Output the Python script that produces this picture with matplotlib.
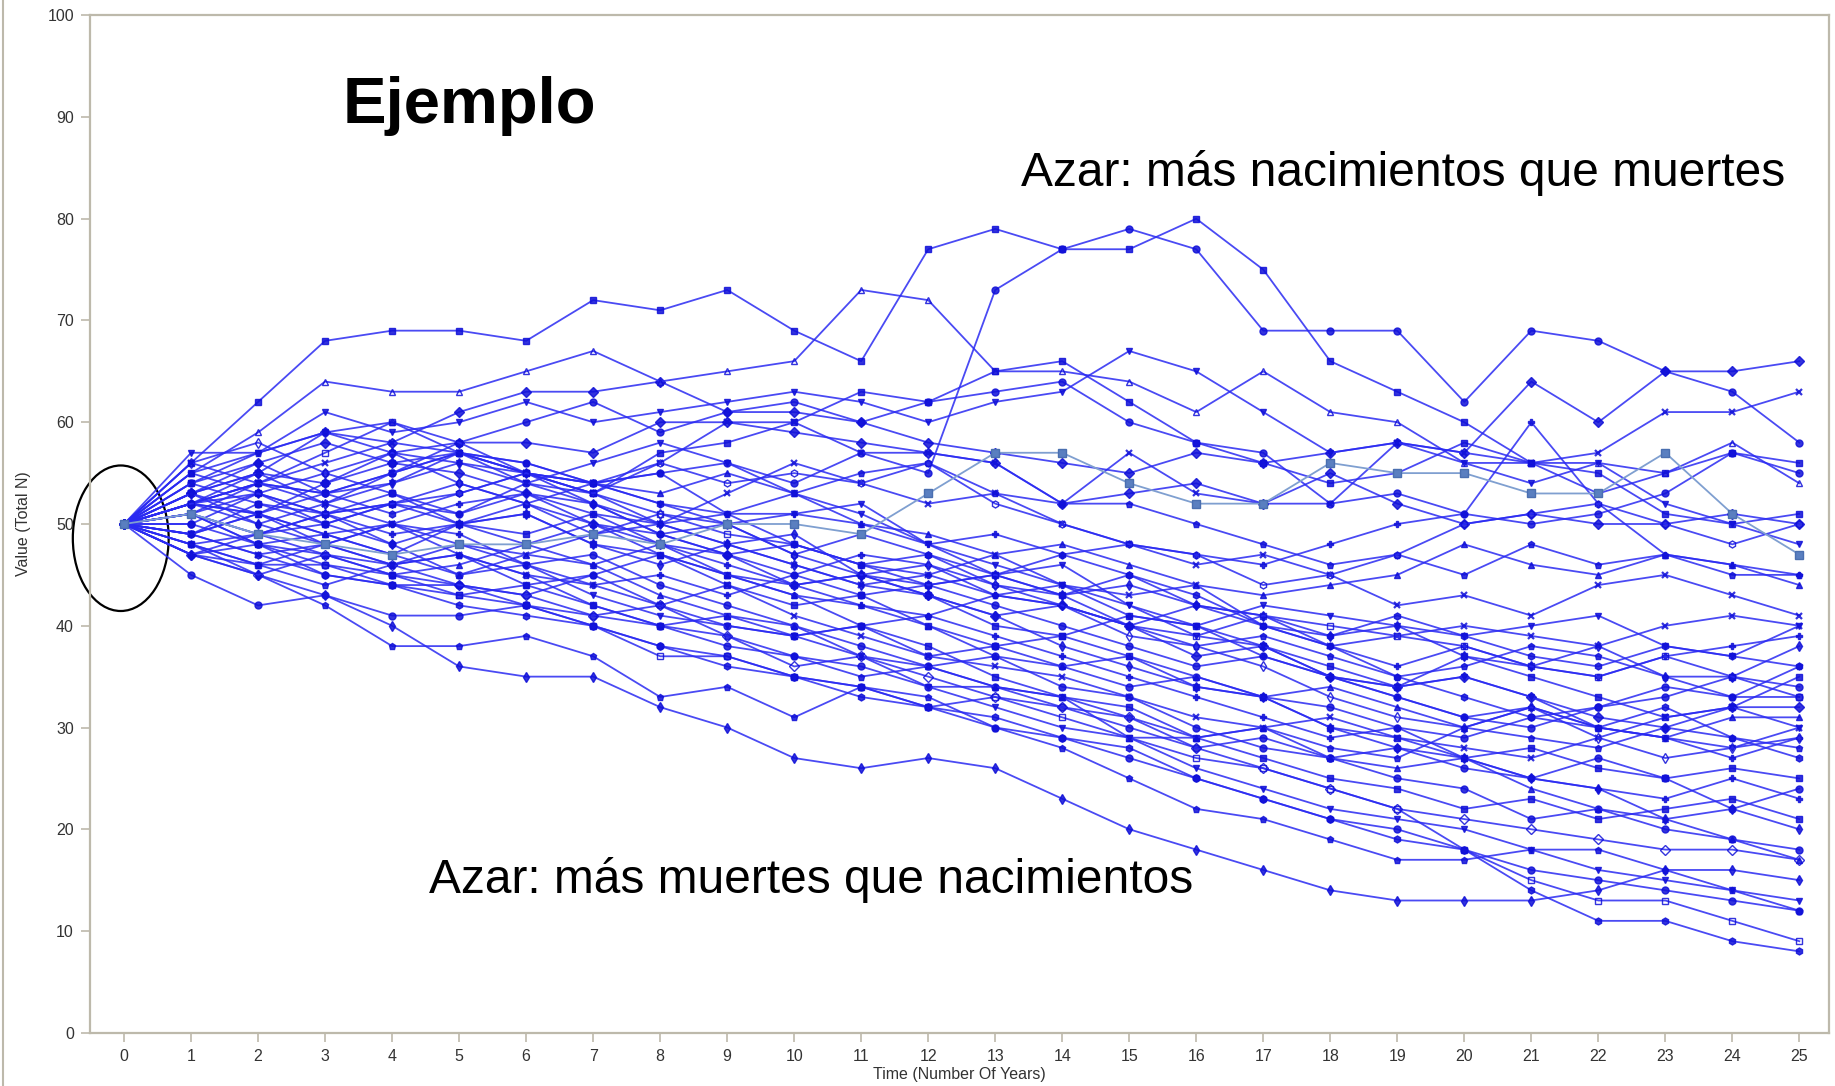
import matplotlib
matplotlib.use("Agg")
import matplotlib.pyplot as plt
from matplotlib.patches import Ellipse
from matplotlib.lines import Line2D

plt.rcParams['font.family'] = ['Liberation Sans', 'DejaVu Sans']

years = list(range(26))

# simulated population runs (one list per run)
run_01 = [50,56,62,68,69,69,68,72,71,73,69,66,77,79,77,77,80,75,66,63,60,56,55,51,50,51]
run_02 = [50,52,54,53,55,57,56,54,55,56,54,57,55,73,77,79,77,69,69,69,62,69,68,65,63,58]
run_03 = [50,53,55,59,58,61,63,63,64,61,61,60,58,57,56,55,57,56,57,58,57,64,60,65,65,66]
run_04 = [50,55,59,64,63,63,65,67,64,65,66,73,72,65,65,64,61,65,61,60,56,56,56,55,58,54]
run_05 = [50,57,57,61,59,60,62,60,61,62,63,62,60,62,63,67,65,61,57,58,56,54,56,52,50,48]
run_06 = [50,52,54,56,58,57,55,54,56,60,60,57,57,56,52,57,53,52,52,58,57,56,57,61,61,63]
run_07 = [50,51,49,50,52,51,53,52,49,50,51,50,48,49,47,48,47,46,48,50,51,60,52,47,46,45]
run_08 = [50,47,45,43,40,36,35,35,32,30,27,26,27,26,23,20,18,16,14,13,13,13,14,16,16,15]
run_09 = [50,48,45,42,38,38,39,37,33,34,31,34,33,30,28,25,22,21,19,17,17,18,18,16,14,12]
run_10 = [50,49,47,45,44,42,41,40,38,36,35,33,32,31,29,28,25,23,21,19,18,14,11,11,9,8]
run_11 = [50,48,46,46,44,43,42,40,37,37,35,34,32,33,31,29,27,26,24,22,18,15,13,13,11,9]
run_12 = [50,45,42,43,41,41,42,40,38,37,35,34,32,30,29,27,25,23,21,20,18,16,15,14,13,12]
run_13 = [50,53,51,54,56,57,55,53,57,58,60,63,62,65,66,62,58,56,54,55,58,56,53,55,57,56]
run_14 = [50,54,56,53,55,58,60,62,59,61,62,60,62,63,64,60,58,57,52,53,51,50,51,53,57,55]
run_15 = [50,52,55,54,57,58,58,57,60,60,59,58,57,56,52,53,54,52,55,52,50,51,50,50,51,50]
run_16 = [50,51,48,49,47,50,52,54,53,55,53,50,49,47,48,46,44,43,44,45,48,46,45,47,46,44]
run_17 = [50,49,51,53,54,57,55,54,52,51,51,52,48,45,46,42,40,42,41,40,39,40,41,38,37,40]
run_18 = [50,53,55,52,50,48,47,49,50,48,46,44,45,47,44,43,44,40,38,39,40,39,38,40,41,40]
run_19 = [50,47,46,48,50,49,46,44,45,43,45,47,46,43,42,40,42,41,38,36,38,36,35,37,38,39]
run_20 = [50,51,53,51,48,50,51,48,46,48,49,45,44,45,43,44,42,41,39,40,37,36,38,35,35,38]
run_21 = [50,52,50,48,46,47,44,45,47,45,43,40,41,43,42,40,38,39,37,35,36,38,37,35,33,36]
run_22 = [50,48,49,51,52,54,52,50,49,47,48,46,47,45,47,45,42,40,39,41,39,37,36,38,37,36]
run_23 = [50,54,52,51,53,50,49,51,48,45,44,45,43,40,39,41,40,38,36,34,37,35,33,31,32,35]
run_24 = [50,50,53,55,53,51,54,52,49,47,45,43,44,42,40,38,36,37,35,33,31,30,32,33,35,34]
run_25 = [50,52,54,57,60,58,55,53,51,49,48,46,44,45,43,40,39,41,40,39,38,36,35,37,35,33]
run_26 = [50,47,48,46,45,44,43,45,42,40,39,40,37,38,36,34,35,33,32,30,29,31,32,34,33,33]
run_27 = [50,53,56,58,56,55,53,50,48,47,44,45,43,41,42,40,37,38,35,34,35,33,31,30,32,32]
run_28 = [50,51,49,47,45,46,48,50,47,45,43,42,40,37,36,37,35,33,34,32,30,32,30,29,31,31]
run_29 = [50,54,57,59,57,56,54,56,58,56,53,51,48,46,44,42,39,38,35,34,35,33,30,29,28,30]
run_30 = [50,49,47,48,50,47,45,44,42,44,41,39,37,36,35,33,31,30,31,29,28,27,29,31,32,30]
run_31 = [50,52,51,49,50,52,53,51,50,51,48,46,45,43,44,41,40,37,35,33,31,32,30,29,27,29]
run_32 = [50,56,58,55,57,54,52,49,51,50,47,45,46,44,42,39,38,36,33,31,30,32,29,27,28,29]
run_33 = [50,48,46,44,46,47,45,42,40,39,37,35,36,34,33,31,29,30,28,27,30,29,28,30,29,28]
run_34 = [50,51,54,53,51,53,55,54,52,50,47,49,47,44,43,45,43,40,38,35,33,31,30,32,29,27]
run_35 = [50,55,53,50,52,50,51,48,47,44,42,43,40,38,39,37,34,33,30,29,27,28,26,25,26,25]
run_36 = [50,49,52,50,48,45,46,47,44,42,40,38,36,37,34,33,30,28,27,28,26,25,27,25,22,24]
run_37 = [50,51,48,47,45,43,44,42,40,41,39,40,38,35,33,32,29,27,25,24,22,23,21,22,23,21]
run_38 = [50,50,48,45,44,44,42,41,40,38,37,36,34,34,32,30,28,29,27,25,24,21,22,20,19,18]
run_39 = [50,47,45,47,46,44,43,41,42,39,36,37,35,33,32,31,28,26,24,22,21,20,19,18,18,17]
run_40 = [50,52,51,49,47,45,47,46,43,41,40,37,36,34,33,29,29,30,27,26,27,24,22,21,19,17]
run_41 = [50,49,51,48,46,48,46,43,41,40,39,37,34,32,30,29,26,24,22,21,20,18,16,15,14,13]
run_42 = [50,56,54,52,55,57,54,53,50,53,56,54,52,53,50,48,46,47,45,42,43,41,44,45,43,41]
run_43 = [50,47,49,51,49,50,48,46,48,46,44,42,41,39,37,35,33,31,29,30,27,25,24,23,25,23]
run_44 = [50,53,50,52,54,56,55,52,50,48,46,44,43,41,38,36,34,33,30,28,27,25,24,21,22,20]
run_45 = [50,55,57,59,60,57,56,54,55,51,53,55,56,53,52,52,50,48,46,47,45,48,46,47,45,45]
run_46 = [50,52,53,51,52,53,55,53,56,54,55,54,56,52,50,48,47,44,45,47,50,51,52,50,48,50]
# the one lighter run
run_light = [50,51,49,48,47,48,48,49,48,50,50,49,53,57,57,54,52,52,56,55,55,53,53,57,51,47]

runs = [run_01, run_02, run_03, run_04, run_05, run_06, run_07, run_08, run_09, run_10,
        run_11, run_12, run_13, run_14, run_15, run_16, run_17, run_18, run_19, run_20,
        run_21, run_22, run_23, run_24, run_25, run_26, run_27, run_28, run_29, run_30,
        run_31, run_32, run_33, run_34, run_35, run_36, run_37, run_38, run_39, run_40,
        run_41, run_42, run_43, run_44, run_45, run_46]

markers = ['s', 'o', 'D', '^', 'v', 'x', 'P', 'd', 'p', 'h', 's', 'o']

fig = plt.figure(figsize=(18.35, 10.86), dpi=100)
ax = fig.add_axes([0.049, 0.049, 0.948, 0.937])

for i, r in enumerate(runs):
    m = markers[i % len(markers)]
    hollow = (i % 7 == 3)
    ax.plot(years, r, color='#2a2af2', lw=1.3, alpha=0.85,
            marker=m, markersize=5, markeredgewidth=1.6 if m == 'x' else 1.0,
            markerfacecolor='none' if hollow else '#1010d8',
            markeredgecolor='#1010d8')

ax.plot(years, run_light, color='#7f9fd0', lw=1.3, marker='s', markersize=5.5,
        markerfacecolor='#5a7fc0', markeredgecolor='#4a6fb0')

ax.add_patch(Ellipse((-0.05, 48.6), 1.43, 14.3, fill=False, edgecolor='black',
                     lw=1.6, clip_on=False))

ax.text(3.26, 89.4, 'Ejemplo', fontsize=47, fontweight='bold', va='baseline')
ax.text(13.39, 83.2, 'Azar: más nacimientos que muertes', fontsize=34.5, va='baseline')
ax.text(4.55, 13.7, 'Azar: más muertes que nacimientos', fontsize=34.5, va='baseline')

ax.set_xlim(-0.51, 25.45)
ax.set_ylim(0, 100)
ax.set_xticks(years)
ax.set_yticks(range(0, 101, 10))

for s in ax.spines.values():
    s.set_color('#bdb9ab')
    s.set_linewidth(1.6)
ax.tick_params(colors='#bdb9ab', labelcolor='#333333', labelsize=11.5,
               length=6.5, width=1.2, pad=5)

ax.set_xlabel('Time (Number Of Years)', fontsize=11.5, color='#333333', labelpad=2.5)
ax.set_ylabel('Value (Total N)', fontsize=11.5, color='#333333', labelpad=12)

fig.add_artist(Line2D([0.0015, 0.0015], [0, 1], color='#bdb9ab', lw=1.5))

fig.savefig('out.png', dpi=100)
